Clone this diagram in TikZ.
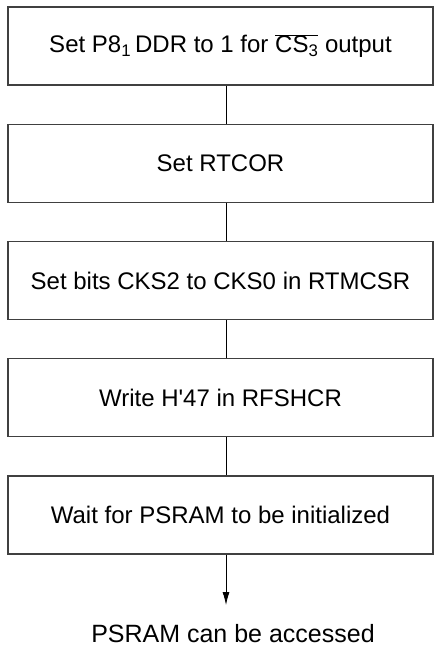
\documentclass[tikz,border=0pt]{standalone}
\usepackage{fontspec}
\setmainfont{Liberation Sans}[Ligatures=TeXOff]
\usetikzlibrary{arrows.meta}
\begin{document}
\begin{tikzpicture}[x=1pt,y=1pt,
  stepbox/.style={draw=black!75, line width=1.4pt, minimum width=425pt, minimum height=78pt, inner sep=0pt, font=\fontsize{24}{28}\selectfont},
  link/.style={line width=0.8pt, draw=black},
  lbl/.style={font=\fontsize{25}{29}\selectfont, inner sep=0pt}]
\useasboundingbox (0,0) rectangle (434,-647);
\coordinate (axis) at (226,0);
\node[stepbox] (b1) at (220.5,-46) {Set P8\textsubscript{1}\,DDR to 1 for $\overline{\mbox{CS\textsubscript{3}}}$ output};
\node[stepbox] (b2) at (220.5,-163.25) {Set RTCOR};
\node[stepbox] (b3) at (220.5,-280.5) {Set bits CKS2 to CKS0 in RTMCSR};
\node[stepbox] (b4) at (220.5,-397.75) {Write H'47 in RFSHCR};
\node[stepbox] (b5) at (220.5,-515) {Wait for PSRAM to be initialized};
\node[lbl, anchor=base] (end) at (233,-642) {PSRAM can be accessed};
\coordinate (tip) at (226,-605);
\draw[link] (b1.south -| axis) -- (b2.north -| axis);
\draw[link] (b2.south -| axis) -- (b3.north -| axis);
\draw[link] (b3.south -| axis) -- (b4.north -| axis);
\draw[link] (b4.south -| axis) -- (b5.north -| axis);
\draw[link, -{Latex[length=13pt,width=7pt]}] (b5.south -| axis) -- (tip);
\end{tikzpicture}
\end{document}
